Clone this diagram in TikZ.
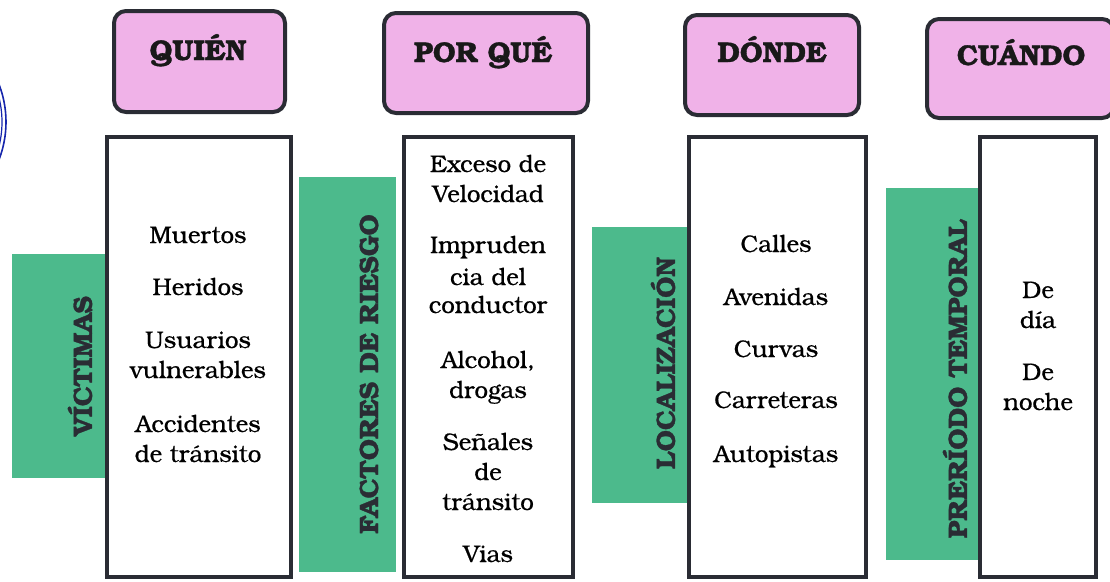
\documentclass[tikz,border=0pt]{standalone}
\usepackage{fontspec}
\setmainfont{TeX Gyre Bonum}[BoldFeatures={FakeBold=1.2}]
\newfontfamily\itemfont{TeX Gyre Bonum}[BoldFont={TeX Gyre Bonum},BoldFeatures={FakeBold=0.6}]
\usepackage{xcolor}
\usetikzlibrary{positioning}
\definecolor{headpink}{RGB}{240,178,232}
\definecolor{bargreen}{RGB}{76,186,140}
\definecolor{edgegray}{RGB}{42,44,52}
\definecolor{ringblue}{RGB}{22,38,172}
\tikzset{
    headbox/.style={draw=edgegray,line width=4pt,fill=headpink,rounded corners=12pt},
    listbox/.style={draw=edgegray,line width=4pt,fill=white},
    greenbar/.style={fill=bargreen},
    headtext/.style={font=\bfseries\fontsize{28.5}{30}\selectfont,anchor=base,inner sep=0pt,text=black!90},
    bartext/.style={font=\bfseries\fontsize{26.5}{28}\selectfont,rotate=90,inner sep=0pt,text=edgegray},
    itemtext/.style={font=\itemfont\bfseries\fontsize{24}{26}\selectfont,anchor=base,inner sep=0pt}
}

\begin{document}
\begin{tikzpicture}[x=1pt,y=-1pt]
        \path[use as bounding box] (0,0) rectangle (1110,581);
        \clip (0,0) rectangle (1110,581);

        % cut ring at the left edge
        \draw[ringblue,line width=1.6pt] (6,122) arc (0:40:105) (6,122) arc (0:-40:105);
        \draw[ringblue,line width=1.2pt] (2,122) arc (0:40:101) (2,122) arc (0:-40:101);

        % headings
        \draw[headbox] (114,11) rectangle (285,112);
        \draw[headbox] (384,13) rectangle (588,113);
        \draw[headbox] (685,15) rectangle (859,115);
        \draw[headbox] (927,19) rectangle (1114,118);
        \node[headtext] (quien)  at (198,60)  {QUIÉN};
        \node[headtext] (porque) at (483,62)  {POR QUÉ};
        \node[headtext] (donde)  at (772,62)  {DÓNDE};
        \node[headtext] (cuando) at (1021,65) {CUÁNDO};

        % green side bars
        \fill[greenbar] (12,254)  rectangle (107,478);
        \fill[greenbar] (299,177) rectangle (396,572);
        \fill[greenbar] (592,227) rectangle (689,503);
        \fill[greenbar] (886,188) rectangle (981,560);
        \node[bartext] (victimas) at (80,366)  {VÍCTIMAS};
        \node[bartext] (factores) at (369,374) {FACTORES DE RIESGO};
        \node[bartext] (lugar)    at (663,363) {LOCALIZACIÓN};
        \node[bartext] (periodo)  at (955,379) {PRERÍODO TEMPORAL};

        % list boxes
        \draw[listbox] (107,137) rectangle (291,577);
        \draw[listbox] (404,137) rectangle (573,577);
        \draw[listbox] (689,137) rectangle (866,577);
        \draw[listbox] (980,137) rectangle (1096,577);

        % list entries
        \foreach \txt/\yy [count=\i] in {Muertos/243, Heridos/295, Usuarios/348,
                vulnerables/378, Accidentes/432, de tránsito/462}
            \node[itemtext] (q\i) at (198,\yy) {\txt};
        \foreach \txt/\yy [count=\i] in {Exceso de/172, Velocidad/202, Impruden/253,
                cia del/285, conductor/313, {Alcohol,}/368, drogas/398,
                Señales/450, de/480, tránsito/510, Vias/562}
            \node[itemtext] (p\i) at (488,\yy) {\txt};
        \foreach \txt/\yy [count=\i] in {Calles/252, Avenidas/305, Curvas/357,
                Carreteras/408, Autopistas/462}
            \node[itemtext] (d\i) at (776,\yy) {\txt};
        \foreach \txt/\yy [count=\i] in {De/298, día/328, De/380, noche/410}
            \node[itemtext] (c\i) at (1038,\yy) {\txt};
    \end{tikzpicture}
\end{document}
